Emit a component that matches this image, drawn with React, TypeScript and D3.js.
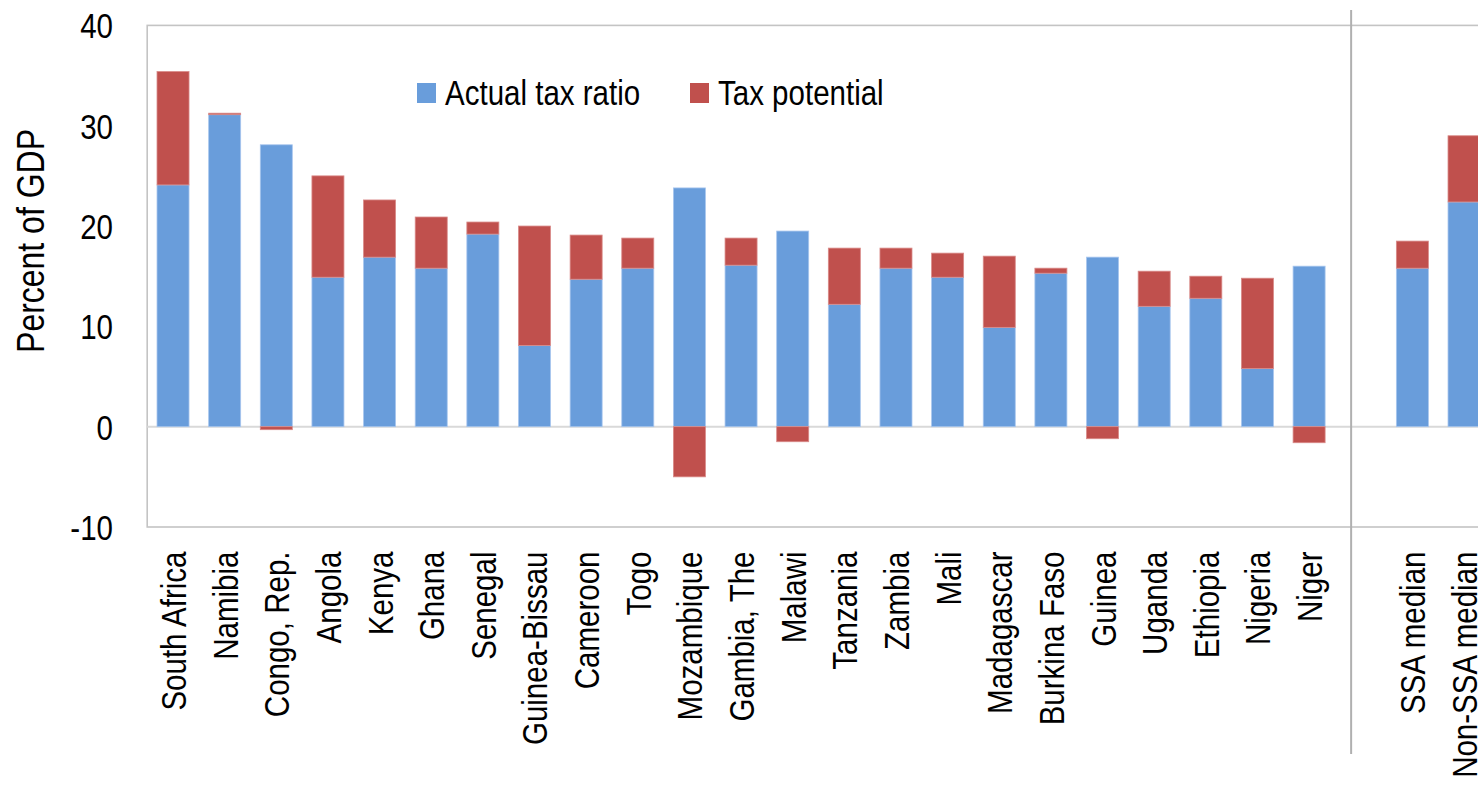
import React from "react";
import * as d3 from "d3";

const countries = [
  "South Africa", "Namibia", "Congo, Rep.", "Angola", "Kenya", "Ghana", "Senegal",
  "Guinea-Bissau", "Cameroon", "Togo", "Mozambique", "Gambia, The", "Malawi",
  "Tanzania", "Zambia", "Mali", "Madagascar", "Burkina Faso", "Guinea", "Uganda",
  "Ethiopia", "Nigeria", "Niger",
];
const medians = ["SSA median", "Non-SSA median"];
const actualTaxRatio = [
  24.1, 31.1, 28.1, 14.9, 16.9, 15.8, 19.2, 8.1, 14.7, 15.8, 23.8, 16.1, 19.5,
  12.2, 15.8, 14.9, 9.9, 15.3, 16.9, 12.0, 12.8, 5.8, 16.0, 15.8, 22.4,
];
const taxPotential = [
  11.3, 0.15, -0.3, 10.1, 5.7, 5.1, 1.2, 11.9, 4.4, 3.0, -5.0, 2.7, -1.5,
  5.6, 2.0, 2.4, 7.1, 0.5, -1.2, 3.5, 2.2, 9.0, -1.6, 2.7, 6.6,
];
const yTicks = [-10, 0, 10, 20, 30, 40];
const seriesNames = ["Actual tax ratio", "Tax potential"];

const BLUE = "#699DDB";
const RED = "#C0504D";
const FONT = "'Liberation Sans', Arial, sans-serif";
const NARROW = 0.82;

export default function App() {
  const W = 1478, H = 786;
  const left = 147.2, step = 51.64;
  const labels = [...countries, "", ...medians];
  const x = d3.scaleBand<string>()
    .domain(labels)
    .range([left, left + step * labels.length])
    .paddingInner(0.38)
    .paddingOuter(0.19);
  const y = d3.scaleLinear().domain([-10, 40]).range([527, 25.4]);
  const bw = x.bandwidth();
  const barLabels = [...countries, ...medians];
  const sepX = (x("") as number) + 0.2 * bw;

  return (
    <svg width={W} height={H} style={{ position: "absolute", left: 0, top: 0, background: "#fff" }}>
      {/* plot frame */}
      <rect x={left} y={y(40)} width={W} height={y(-10) - y(40)} fill="none" stroke="#c4c4c4" strokeWidth={1.6} />
      {/* zero line */}
      <line x1={left} x2={W} y1={y(0)} y2={y(0)} stroke="#d9d9d9" strokeWidth={2} />
      {/* bars */}
      {barLabels.map((c, i) => {
        const a = actualTaxRatio[i];
        const p = taxPotential[i];
        const bx = x(c) as number;
        const redTop = p >= 0 ? y(a + p) : y(0);
        const redBot = p >= 0 ? y(a) : y(p);
        return (
          <g key={c}>
            <rect x={bx} y={y(a)} width={bw} height={y(0) - y(a)} fill={BLUE} stroke="#a8c6ee" strokeWidth={0.8} />
            <rect x={bx} y={redTop} width={bw} height={Math.max(0.8, redBot - redTop)} fill={RED} stroke="#d98a88" strokeWidth={0.8} />
          </g>
        );
      })}
      {/* separator */}
      <line x1={sepX} x2={sepX} y1={10} y2={754} stroke="#b0b0b0" strokeWidth={2} />
      {/* y ticks */}
      {yTicks.map((t) => (
        <text key={t} transform={`translate(113,${y(t)}) scale(${NARROW},1)`} dy="0.36em"
          textAnchor="end" fontFamily={FONT} fontSize={36} fill="#000">{t}</text>
      ))}
      {/* y title */}
      <text transform={`translate(44,241) rotate(-90) scale(${NARROW},1)`} textAnchor="middle"
        fontFamily={FONT} fontSize={39} fill="#000">Percent of GDP</text>
      {/* category labels */}
      {barLabels.map((c) => (
        <text key={c} transform={`translate(${(x(c) as number) + bw / 2},551.5) rotate(-90) scale(${NARROW},1)`}
          dy="0.36em" textAnchor="end" fontFamily={FONT} fontSize={36} fill="#000">{c}</text>
      ))}
      {/* legend */}
      <rect x={417} y={83} width={19} height={20} fill={BLUE} />
      <text transform={`translate(445,105) scale(${NARROW},1)`} fontFamily={FONT} fontSize={36} fill="#000">{seriesNames[0]}</text>
      <rect x={690} y={83} width={19} height={20} fill={RED} />
      <text transform={`translate(718,105) scale(${NARROW},1)`} fontFamily={FONT} fontSize={36} fill="#000">{seriesNames[1]}</text>
    </svg>
  );
}
